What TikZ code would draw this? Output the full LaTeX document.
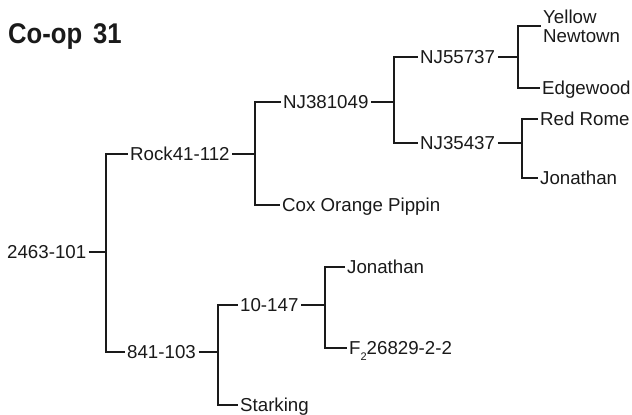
\documentclass[tikz,border=0pt]{standalone}
\usepackage{fontspec}
\setmainfont{Liberation Sans}
\definecolor{ink}{HTML}{1A1A1A}
\tikzset{
  lblbase/.style={anchor=west, inner xsep=2.5pt, inner ysep=0pt, text=ink,
    font=\fontsize{18.7}{19}\selectfont},
  lbl/.style={lblbase, text height=13.4pt, text depth=0pt},
  link/.style={draw=ink, line width=2.1pt},
  title/.style={anchor=base west, inner sep=0pt, text=ink}
}
\begin{document}
\begin{tikzpicture}[x=1pt,y=-1pt]
\useasboundingbox (0,0) rectangle (632,415);
\fill[white] (0,0) rectangle (632,415);

% heading
\node[title] (head) at (8,43)
  {\scalebox{0.9}[1]{\fontsize{28.5}{28}\selectfont\bfseries Co-op\hspace{12pt}31}};

% pedigree labels
\node[lbl] (root)  at (4.5,252)   {2463-101};
\node[lbl] (rock)  at (127.5,154) {Rock41-112};
\node[lbl] (nj38)  at (280.5,102) {NJ381049};
\node[lbl] (cox)   at (279.5,205) {Cox Orange Pippin};
\node[lbl] (nj55)  at (417.5,57)  {NJ55737};
\node[lbl] (nj35)  at (417.5,143) {NJ35437};
\node[lblbase, align=left] (yn) at (540.5,26) {Yellow\\Newtown};
\node[lbl] (edge)  at (539.5,88)  {Edgewood};
\node[lbl] (rome)  at (537.5,119) {Red Rome};
\node[lbl] (jon1)  at (537.5,178) {Jonathan};
\node[lbl] (b841)  at (124.5,352) {841-103};
\node[lbl] (s10)   at (237.5,305) {10-147};
\node[lbl] (stark) at (237.5,405) {Starking};
\node[lbl] (jon2)  at (344.5,267) {Jonathan};
\node[lbl] (f2)    at (346.5,348)
  {F\raisebox{-6pt}{\fontsize{11}{11}\selectfont 2}26829-2-2};

% branch points
\coordinate (jroot) at (106,252);
\coordinate (jrock) at (255,154);
\coordinate (jnj38) at (394,102);
\coordinate (jnj55) at (518,57);
\coordinate (jnj35) at (522,143);
\coordinate (jb841) at (218,352);
\coordinate (js10)  at (325,305);

% brackets
\draw[link] (root.east) -- (jroot);
\draw[link] (rock.west) -| (jroot) |- (b841.west);

\draw[link] (rock.east) -- (jrock);
\draw[link] (nj38.west) -| (jrock) |- (cox.west);

\draw[link] (nj38.east) -- (jnj38);
\draw[link] (nj55.west) -| (jnj38) |- (nj35.west);

\draw[link] (nj55.east) -- (jnj55);
\draw[link] (yn.west) -| (jnj55) |- (edge.west);

\draw[link] (nj35.east) -- (jnj35);
\draw[link] (rome.west) -| (jnj35) |- (jon1.west);

\draw[link] (b841.east) -- (jb841);
\draw[link] (s10.west) -| (jb841) |- (stark.west);

\draw[link] (s10.east) -- (js10);
\draw[link] (jon2.west) -| (js10) |- (f2.west);
\end{tikzpicture}
\end{document}
